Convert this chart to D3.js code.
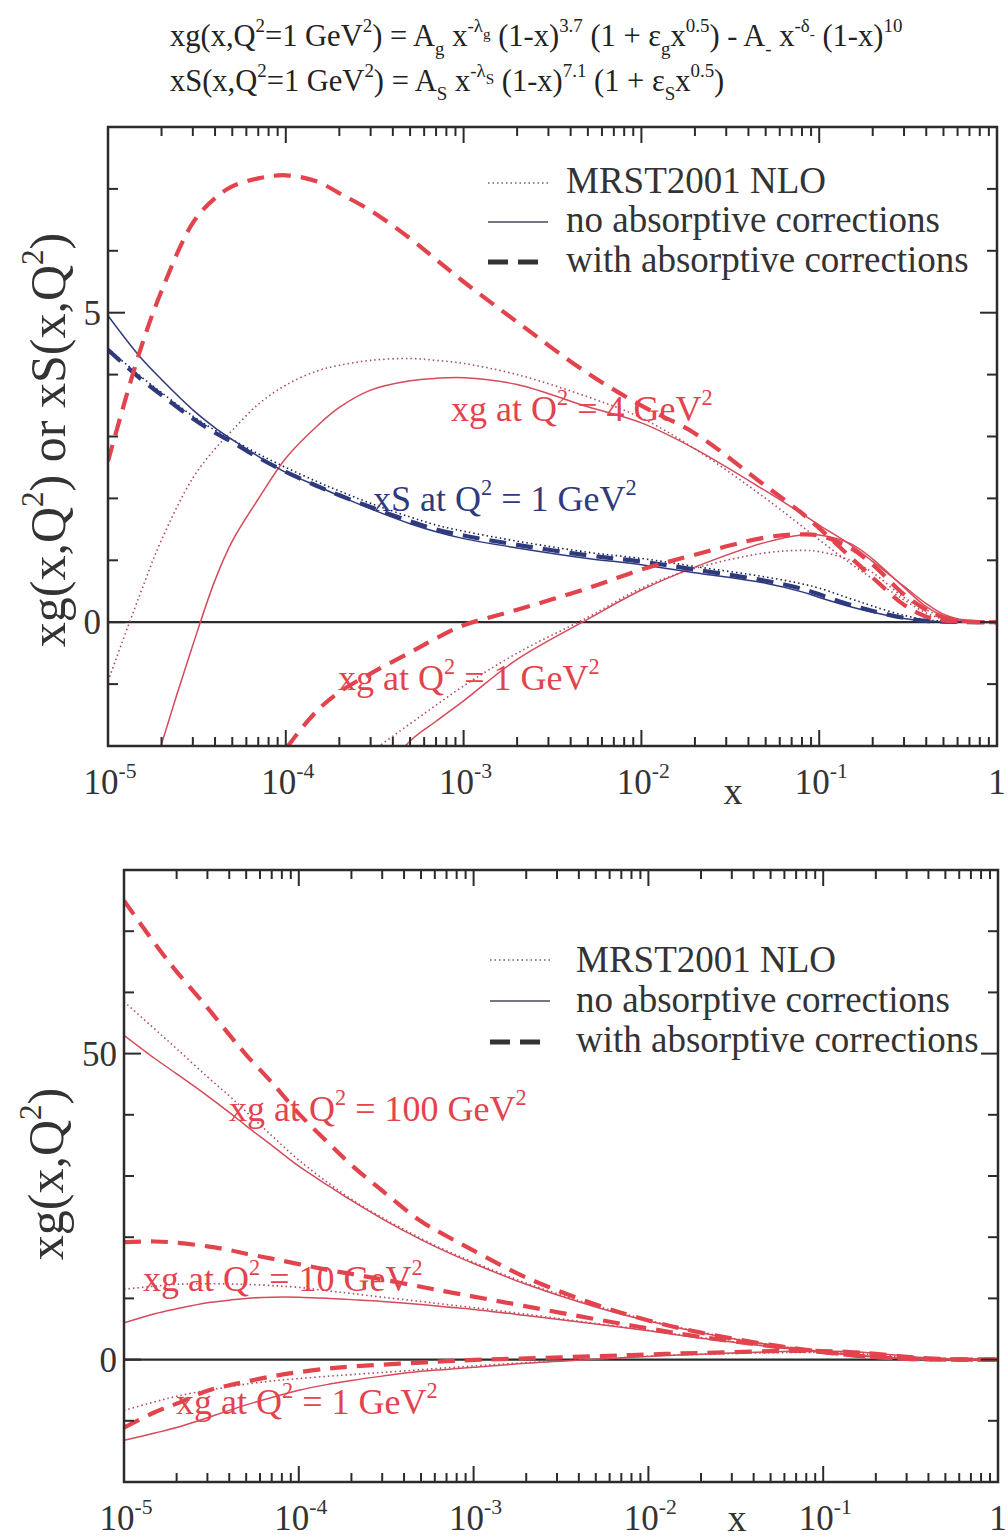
<!DOCTYPE html>
<html><head><meta charset="utf-8">
<script src="https://cdn.jsdelivr.net/npm/d3@7"></script>
<style>body{margin:0;background:#fff}svg{display:block}text{font-family:"Liberation Serif","Times New Roman",serif}</style>
</head><body><svg id="c" width="1008" height="1539"></svg>
<script>
// ---------------- DATA ----------------
const xGrid = [1e-5,1.5e-5,2e-5,3e-5,4e-5,5e-5,7e-5,1e-4,1.5e-4,2e-4,3e-4,5e-4,7e-4,1e-3,2e-3,5e-3,1e-2,2e-2,5e-2,0.08,0.1,0.15,0.2,0.3,0.4,0.5,0.7,1];

// top panel: xg at Q2=4 GeV2
const xg4Dashed = [2.6,4.35,5.35,6.45,6.85,7.04,7.17,7.22,7.12,6.93,6.65,6.2,5.86,5.5,4.85,4.02,3.5,3.05,2.2,1.76,1.52,1.05,0.72,0.28,0.09,0.03,0.005,0];
const xg4Solid  = [-4.6,-3.2,-1.97,-0.37,0.68,1.31,1.99,2.65,3.17,3.47,3.75,3.9,3.94,3.95,3.84,3.48,3.22,2.8,2.12,1.75,1.57,1.25,0.98,0.58,0.3,0.13,0.02,0];
const xg4Dotted = [-0.95,0.42,1.33,2.33,2.8,3.1,3.52,3.83,4.06,4.15,4.23,4.26,4.23,4.18,4.0,3.64,3.3,2.8,2.0,1.55,1.33,0.95,0.7,0.36,0.15,0.05,0.005,0];
// top panel: xS at Q2=1 GeV2
const xSSolid  = [4.95,4.3,3.92,3.43,3.14,2.95,2.68,2.42,2.2,2.04,1.83,1.59,1.46,1.35,1.2,1.03,0.93,0.8,0.63,0.49,0.4,0.25,0.16,0.06,0.02,0.01,0,0];
const xSDashed = [4.4,3.95,3.67,3.29,3.06,2.91,2.66,2.43,2.2,2.05,1.86,1.63,1.5,1.4,1.25,1.08,0.98,0.85,0.67,0.54,0.45,0.28,0.18,0.07,0.02,0.01,0,0];
const xSDotted = [4.42,3.99,3.71,3.33,3.1,2.95,2.72,2.5,2.27,2.12,1.92,1.7,1.57,1.47,1.31,1.13,1.03,0.9,0.73,0.62,0.55,0.38,0.26,0.11,0.04,0.015,0,0];
// xg at Q2=1 GeV2 (both panels)
const xg1Dashed = [-11.1,-8.6,-7.2,-5.1,-4.2,-3.6,-2.75,-2.05,-1.43,-1.13,-0.83,-0.49,-0.26,-0.05,0.2,0.55,0.85,1.09,1.37,1.42,1.4,1.2,0.93,0.45,0.2,0.08,0.01,0];
const xg1Solid  = [-13.2,-12,-11.1,-9.5,-8.3,-7.4,-6.2,-5.0,-4.0,-3.4,-2.7,-1.92,-1.6,-1.27,-0.6,0.05,0.52,0.89,1.29,1.41,1.41,1.27,1.02,0.56,0.25,0.1,0.01,0];
const xg1Dotted = [-8.3,-6.9,-6.0,-5.0,-4.45,-4.0,-3.5,-3.1,-2.7,-2.45,-2.1,-1.64,-1.34,-1.03,-0.5,0.08,0.55,0.87,1.12,1.16,1.14,1.0,0.8,0.4,0.2,0.08,0.01,0];
// bottom panel: xg at Q2=100 GeV2
const xg100Dashed = [75,68,63.4,57.5,53.1,49.8,45.3,40.2,35.2,31.8,27.6,22.6,20.2,17.8,13.4,9.0,6.4,4.4,2.4,1.6,1.25,0.7,0.4,0.12,0.04,0.01,0,0];
const xg100Solid  = [53,49.2,46.7,43.1,40.4,38.2,35.0,31.6,28.3,26.0,23.0,19.6,17.6,15.7,12.3,8.6,6.3,4.4,2.4,1.6,1.3,0.75,0.45,0.15,0.05,0.015,0,0];
const xg100Dotted = [58.5,54,50.8,46.2,43.1,40.5,36.6,32.6,28.7,26.2,23.2,19.8,17.8,15.9,12.5,8.8,6.45,4.5,2.4,1.6,1.3,0.75,0.45,0.15,0.05,0.015,0,0];
// bottom panel: xg at Q2=10 GeV2
const xg10Dashed = [19.2,19.3,19.1,18.5,17.9,17.3,16.5,15.6,14.6,14.0,13.1,11.9,11.1,10.3,8.7,6.6,5.1,3.7,2.2,1.5,1.2,0.7,0.42,0.13,0.04,0.01,0,0];
const xg10Solid  = [6.0,7.5,8.3,9.3,9.7,10.0,10.2,10.2,10.0,9.8,9.5,9.0,8.6,8.2,7.2,5.8,4.7,3.5,2.1,1.5,1.2,0.7,0.42,0.13,0.04,0.01,0,0];
const xg10Dotted = [11.5,12.0,12.3,12.4,12.35,12.3,12.1,11.8,11.2,10.8,10.2,9.5,9.0,8.5,7.4,5.9,4.8,3.6,2.15,1.5,1.2,0.7,0.42,0.13,0.04,0.01,0,0];

const decades = [-5,-4,-3,-2,-1,0];
const legendLabels = ["MRST2001 NLO","no absorptive corrections","with absorptive corrections"];
const topYTicks = [-1,0,1,2,3,4,5,6,7];
const topYLabels = [0,5];
const botYTicks = [-10,0,10,20,30,40,50,60,70];
const botYLabels = [0,50];

// ---------------- STYLE ----------------
const RED="#e3434d", RED_S="#d64a5a", RED_D="#b04a62", NAVY="#2f3a7e", NAVY_D="#1c2250", AX="#2b2b2b", TXT="#333";
const styles = {
  dashed:{w:4.2, dash:"17,10"},
  solid:{w:1.5, dash:null},
  dotted:{w:1.6, dash:"1.5,3"}
};

const svg = d3.select("#c");

function rich(g, x, y, segs, size, color, anchor){
  const t = g.append("text").attr("x",x).attr("y",y).attr("font-size",size)
    .attr("fill",color).attr("text-anchor",anchor||"start");
  let cur = 0;
  const offs = {n:0, sup:-0.45, sub:0.3, ss:-0.22};
  const fss  = {n:1, sup:0.62, sub:0.62, ss:0.5};
  segs.forEach(([s,l])=>{
    const o = offs[l]*size;
    t.append("tspan").attr("dy", o-cur).attr("font-size", fss[l]*size).text(s);
    cur = o;
  });
  return t;
}

// formula header
rich(svg,170,46,[["xg(x,Q","n"],["2","sup"],["=1 GeV","n"],["2","sup"],[") = A","n"],["g","sub"],[" x","n"],["-λ","sup"],["g","ss"],[" (1-x)","n"],["3.7","sup"],[" (1 + ε","n"],["g","sub"],["x","n"],["0.5","sup"],[") - A","n"],["-","sub"],[" x","n"],["-δ","sup"],["-","ss"],[" (1-x)","n"],["10","sup"]],30.5,"#222");
rich(svg,170,91,[["xS(x,Q","n"],["2","sup"],["=1 GeV","n"],["2","sup"],[") = A","n"],["S","sub"],[" x","n"],["-λ","sup"],["S","ss"],[" (1-x)","n"],["7.1","sup"],[" (1 + ε","n"],["S","sub"],["x","n"],["0.5","sup"],[")","n"]],30.5,"#222");

function panel(cfg){
  const g = svg.append("g");
  const x = d3.scaleLog().domain([1e-5,1]).range([cfg.L,cfg.R]);
  const y = d3.scaleLinear().domain(cfg.yDom).range([cfg.B,cfg.T]);
  const cid = "clip"+cfg.id;
  g.append("clipPath").attr("id",cid).append("rect")
    .attr("x",cfg.L).attr("y",cfg.T).attr("width",cfg.R-cfg.L).attr("height",cfg.B-cfg.T);
  // zero line
  g.append("line").attr("x1",cfg.L).attr("x2",cfg.R).attr("y1",y(0)).attr("y2",y(0))
    .attr("stroke",AX).attr("stroke-width",2.2);
  const line = d3.line().x(d=>x(d[0])).y(d=>y(d[1])).curve(d3.curveCatmullRom.alpha(0.5));
  const cg = g.append("g").attr("clip-path",`url(#${cid})`);
  cfg.curves.forEach(c=>{
    const st = styles[c.style];
    cg.append("path").attr("d", line(xGrid.map((xv,i)=>[xv,c.vals[i]])))
      .attr("fill","none").attr("stroke",c.color).attr("stroke-width",st.w)
      .attr("stroke-dasharray",st.dash).attr("stroke-linecap","butt");
  });
  // labels
  cfg.labels.forEach(l=>{
    rich(g,l.x,l.y,[[l.a,"n"],["2","sup"],[l.b,"n"],["2","sup"]],36,l.color);
  });
  // legend
  const lg = cfg.legend;
  const lst = [["dotted","#666",1.5,"1.5,3"],["solid","#454a60",1.6,null],["dashed","#333",5,"20,10"]];
  legendLabels.forEach((lab,i)=>{
    g.append("line").attr("x1",lg.x1).attr("x2",lg.x2).attr("y1",lg.ly[i]).attr("y2",lg.ly[i])
      .attr("stroke",lst[i][1]).attr("stroke-width",lst[i][2]).attr("stroke-dasharray",lst[i][3]);
    g.append("text").attr("x",lg.tx).attr("y",lg.ty[i]).attr("font-size",37).attr("fill",TXT).text(lab);
  });
  // frame
  g.append("rect").attr("x",cfg.L).attr("y",cfg.T).attr("width",cfg.R-cfg.L).attr("height",cfg.B-cfg.T)
    .attr("fill","none").attr("stroke",AX).attr("stroke-width",2.5);
  // x ticks
  const xt = [];
  decades.forEach(d=>{
    xt.push({v:Math.pow(10,d),maj:true});
    if(d<0) for(let k=2;k<=9;k++) xt.push({v:k*Math.pow(10,d),maj:false});
  });
  xt.forEach(t=>{
    const px = x(t.v), len = t.maj?16:9;
    if(t.v===1e-5||t.v===1) return;
    g.append("line").attr("x1",px).attr("x2",px).attr("y1",cfg.B).attr("y2",cfg.B-len).attr("stroke",AX).attr("stroke-width",2);
    g.append("line").attr("x1",px).attr("x2",px).attr("y1",cfg.T).attr("y2",cfg.T+len).attr("stroke",AX).attr("stroke-width",2);
  });
  // y ticks
  cfg.yTicks.forEach(v=>{
    const py = y(v), len = cfg.yLabels.includes(v)?17:10;
    g.append("line").attr("x1",cfg.L).attr("x2",cfg.L+len).attr("y1",py).attr("y2",py).attr("stroke",AX).attr("stroke-width",2);
    g.append("line").attr("x1",cfg.R).attr("x2",cfg.R-len).attr("y1",py).attr("y2",py).attr("stroke",AX).attr("stroke-width",2);
  });
  cfg.yLabels.forEach(v=>{
    g.append("text").attr("x",cfg.L-7).attr("y",y(v)+12).attr("text-anchor","end")
      .attr("font-size",35).attr("fill",TXT).text(v);
  });
  // x tick labels
  decades.forEach(d=>{
    if(d===0){
      g.append("text").attr("x",x(1)).attr("y",cfg.B+48).attr("text-anchor","middle").attr("font-size",35).attr("fill",TXT).text("1");
    } else {
      rich(g,x(Math.pow(10,d))+2,cfg.B+48,[["10","n"],[String(d),"sup"]],35,TXT,"middle");
    }
  });
  g.append("text").attr("x",cfg.xlab[0]).attr("y",cfg.xlab[1]).attr("text-anchor","middle").attr("font-size",38).attr("fill",TXT).text("x");
  // y axis label
  const yl = g.append("text").attr("transform",`translate(${cfg.ylab[0]},${cfg.ylab[1]}) rotate(-90)`)
    .attr("text-anchor","middle").attr("font-size",50).attr("fill",TXT);
  let cur=0;
  cfg.ylabSegs.forEach(([s,l])=>{
    const o = l==="sup"?-22:0;
    yl.append("tspan").attr("dy",o-cur).attr("font-size",l==="sup"?31:50).text(s);
    cur=o;
  });
}

panel({
  id:"top", L:108, R:997, T:127, B:746, yDom:[-2,8],
  yTicks:topYTicks, yLabels:topYLabels,
  curves:[
    {vals:xg4Dotted,style:"dotted",color:RED_D},
    {vals:xg1Dotted,style:"dotted",color:RED_D},
    {vals:xSDotted,style:"dotted",color:NAVY_D},
    {vals:xg4Solid,style:"solid",color:RED_S},
    {vals:xg1Solid,style:"solid",color:RED_S},
    {vals:xSSolid,style:"solid",color:NAVY},
    {vals:xSDashed,style:"dashed",color:NAVY},
    {vals:xg1Dashed,style:"dashed",color:RED},
    {vals:xg4Dashed,style:"dashed",color:RED}
  ],
  labels:[
    {x:451,y:421,a:"xg at Q",b:" = 4 GeV",color:RED},
    {x:373,y:511,a:"xS at Q",b:" = 1 GeV",color:NAVY},
    {x:338,y:690,a:"xg at Q",b:" = 1 GeV",color:RED}
  ],
  legend:{x1:488,x2:548,ly:[183,222,262],tx:566,ty:[193,232,272]},
  xlab:[733,804],
  ylab:[65,440],
  ylabSegs:[["xg(x,Q","n"],["2","sup"],[") or xS(x,Q","n"],["2","sup"],[")","n"]]
});

panel({
  id:"bot", L:124, R:998, T:870, B:1482, yDom:[-20,80],
  yTicks:botYTicks, yLabels:botYLabels,
  curves:[
    {vals:xg100Dotted,style:"dotted",color:RED_D},
    {vals:xg10Dotted,style:"dotted",color:RED_D},
    {vals:xg1Dotted,style:"dotted",color:RED_D},
    {vals:xg100Solid,style:"solid",color:RED_S},
    {vals:xg10Solid,style:"solid",color:RED_S},
    {vals:xg1Solid,style:"solid",color:RED_S},
    {vals:xg100Dashed,style:"dashed",color:RED},
    {vals:xg10Dashed,style:"dashed",color:RED},
    {vals:xg1Dashed,style:"dashed",color:RED}
  ],
  labels:[
    {x:229,y:1121,a:"xg at Q",b:" = 100 GeV",color:RED},
    {x:143,y:1291,a:"xg at Q",b:" = 10 GeV",color:RED},
    {x:176,y:1414,a:"xg at Q",b:" = 1 GeV",color:RED}
  ],
  legend:{x1:490,x2:550,ly:[960,1001,1042],tx:576,ty:[972,1012,1052]},
  xlab:[737,1531],
  ylab:[63,1174],
  ylabSegs:[["xg(x,Q","n"],["2","sup"],[")","n"]]
});
</script></body></html>
